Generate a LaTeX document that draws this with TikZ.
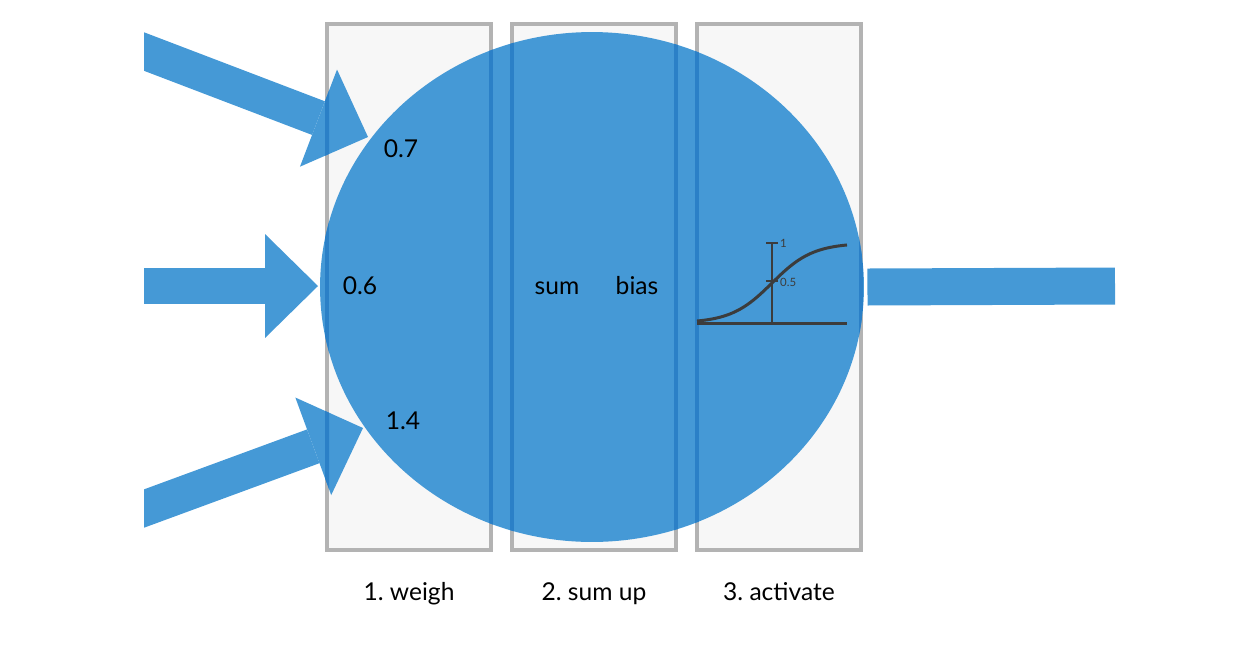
\documentclass[tikz,border=0pt]{standalone}
\usepackage{fontspec}
\setmainfont{Lato}
\usetikzlibrary{arrows.meta,calc,
                shapes.geometric,positioning}

\definecolor{signalblue}{RGB}{69,153,214}
\definecolor{overlapblue}{RGB}{43,128,199}
\definecolor{stagefill}{RGB}{247,247,247}
\definecolor{stageline}{RGB}{179,179,179}
\definecolor{plotgray}{RGB}{60,60,60}

\begin{document}
\frenchspacing
\begin{tikzpicture}[x = 0.02cm, y = -0.02cm]
  \tikzset{stage/.style = {shape = rectangle, minimum width = 3.28cm, minimum height = 10.52cm, inner sep = 0pt, outer sep = 0pt, line width = 0.08cm, fill = stagefill, draw = stageline}}
  \tikzset{stageedge/.style = {draw = overlapblue, line width = 0.08cm}}
  \tikzset{neuron/.style = {shape = ellipse, minimum width = 10.88cm, minimum height = 10.2cm, inner sep = 0pt, outer sep = 0pt, fill = signalblue}}
  \tikzset{inarrow/.style = {line width = 0.72cm, -{Triangle[length = 1.06cm, width = 2.08cm, line width = 0pt]}}}
  \tikzset{outbar/.style = {line width = 0.74cm, draw = signalblue}}
  \tikzset{tag/.style = {font = \fontsize{14}{17}\selectfont, text = black, text height = 0.72em, text depth = 0.22em}}
  \tikzset{tick/.style = {font = \fontsize{6.5}{7}\selectfont, text = plotgray, anchor = west, inner sep = 0.5pt}}
  \tikzset{sigmoid/.style = {draw = plotgray, line width = 0.06cm}}

  \useasboundingbox (0,0) rectangle (1238,650);

  % the three stages
  \node[stage] (weigh) at (409,287) {};
  \node[stage] (sumup) at (594,287) {};
  \node[stage] (activate) at (779,287) {};

  % inputs
  \coordinate (src1) at (124,43.9);
  \coordinate (tip1) at (368,137);
  \coordinate (src2) at (124,286);
  \coordinate (tip2) at (318,286);
  \coordinate (src3) at (124,515.9);
  \coordinate (tip3) at (363,428);
  \begin{scope}
    \clip (144,0) rectangle (1238,650);
    \foreach \i in {1,2,3}
      \draw[inarrow, signalblue] (src\i) -- (tip\i);
  \end{scope}

  % neuron and output
  \node[neuron] (neuron) at (592,287) {};
  \coordinate (outp) at (1115,286);
  \draw[outbar] ([xshift = 2]neuron.east) -- (outp);

  % stage borders seen through the blue
  \begin{scope}
    \clip (neuron.center) ellipse [x radius = 5.44cm, y radius = 5.1cm];
    \foreach \s in {weigh, sumup, activate}
      \draw[stageedge] (\s.south west) rectangle (\s.north east);
  \end{scope}
  \begin{scope}
    \clip ($(weigh.north west)+(-2,0)$) rectangle ($(weigh.south west)+(2,0)$);
    \foreach \i in {1,3}
      \draw[inarrow, overlapblue] (src\i) -- (tip\i);
  \end{scope}

  % weights and sum
  \node[tag] (w1) at (401,153) {0.7};
  \node[tag] (w2) at (360,290) {0.6};
  \node[tag] (w3) at (403,425) {1.4};
  \node[tag] (sum) at (557,290) {sum};
  \node[tag] (bias) at (637,290) {bias};

  % captions
  \node[tag, below = 0.64cm of weigh] (weighcap) {1. weigh};
  \node[tag, below = 0.64cm of sumup] (sumupcap) {2. sum up};
  \node[tag, below = 0.64cm of activate] (activatecap) {3. activate};

  % activation curve
  \coordinate (origin) at (772,323);
  \draw[sigmoid] (697,323) -- (847,323);
  \draw[sigmoid, line width = 0.05cm] (origin) -- (772,243);
  \draw[sigmoid, line width = 0.04cm] (766,243) -- (778,243);
  \draw[sigmoid, line width = 0.04cm] (766,281) -- (778,281);
  \node[tick] (one) at (779,243) {1};
  \node[tick] (half) at (779,282) {0.5};
  \draw[sigmoid] plot[domain = 697:847, samples = 60, smooth] (\x, {323 - 80/(1+exp(-0.049*(\x-772)))});
\end{tikzpicture}
\end{document}
